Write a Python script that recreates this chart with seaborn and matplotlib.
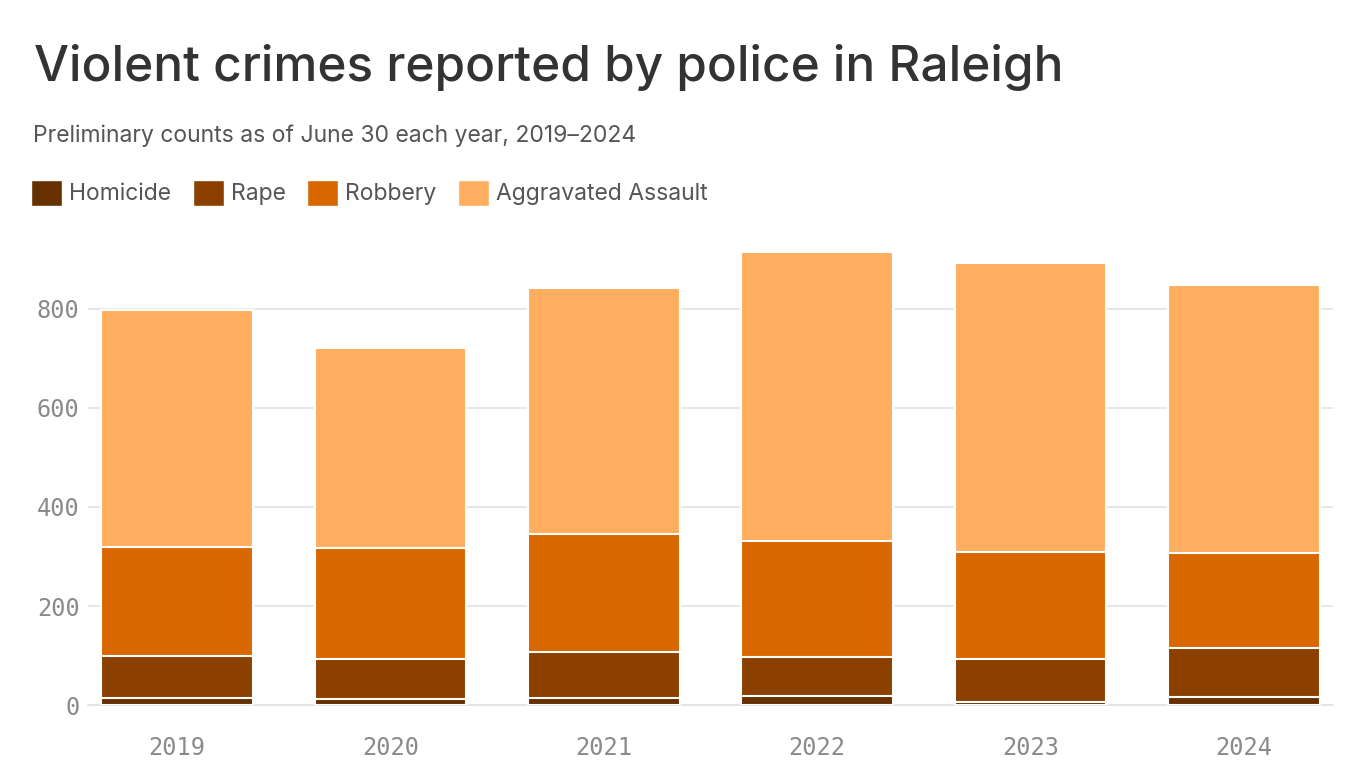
import seaborn as sns
import matplotlib.pyplot as plt
import matplotlib.patches as mpatches
import numpy as np

years = ['2019', '2020', '2021', '2022', '2023', '2024']
homicide = [14, 12, 14, 18, 7, 16]
rape = [86, 80, 94, 78, 85, 99]
robbery = [219, 225, 237, 235, 217, 192]
agg_assault = [479, 404, 497, 584, 584, 541]

labels = ['Homicide', 'Rape', 'Robbery', 'Aggravated Assault']
colors = ['#663000', '#8c4000', '#d96700', '#ffae60']

sns.set_style('white')
plt.rcParams['font.family'] = ['Inter', 'DejaVu Sans']

fig = plt.figure(figsize=(13.66, 7.68), dpi=100)
ax = fig.add_axes([0.0644, 0.082, 0.9114, 0.5995])

layers = np.cumsum(np.array([homicide, rape, robbery, agg_assault]), axis=0)
# draw tallest first so shorter cumulative bars sit on top
for cum, col in zip(layers[::-1], colors[::-1]):
    sns.barplot(x=years, y=cum, color=col, saturation=1, width=0.71,
                edgecolor='white', linewidth=1.5, ax=ax, zorder=3)

ax.set_xlim(-0.417, 5.417)
ax.set_ylim(0, 930)
ax.set_yticks([0, 200, 400, 600, 800])
ax.yaxis.grid(True, color='#e3e3e3', linewidth=1.2, zorder=0)
ax.set_axisbelow(True)
for s in ['top', 'right', 'left']:
    ax.spines[s].set_visible(False)
ax.spines['bottom'].set_color('#e3e3e3')
ax.spines['bottom'].set_linewidth(1.2)
ax.tick_params(axis='y', length=0, pad=6)
ax.tick_params(axis='x', length=17, width=1.2, color='#e3e3e3', pad=5, direction='out')
for t in ax.get_xticklabels() + ax.get_yticklabels():
    t.set_family('DejaVu Sans Mono')
    t.set_fontsize(17)
    t.set_color('#8a8a8a')
ax.set_xlabel('')
ax.set_ylabel('')

fig.text(0.025, 0.912, 'Violent crimes reported by police in Raleigh',
         fontsize=35.6, fontweight='medium', color='#333333', va='center')
fig.text(0.024, 0.823, 'Preliminary counts as of June 30 each year, 2019\u20132024',
         fontsize=16.5, color='#555555', va='center')

handles = [mpatches.Patch(facecolor=c, edgecolor='white', label=l) for c, l in zip(colors, labels)]
fig.legend(handles=handles, loc='center left', bbox_to_anchor=(0.023, 0.749), ncol=4,
           frameon=False, fontsize=16.5, handlelength=1.35, handleheight=1.35,
           handletextpad=0.3, columnspacing=0.95, borderpad=0, borderaxespad=0,
           labelcolor='#555555')

fig.savefig('out.png', dpi=100)
